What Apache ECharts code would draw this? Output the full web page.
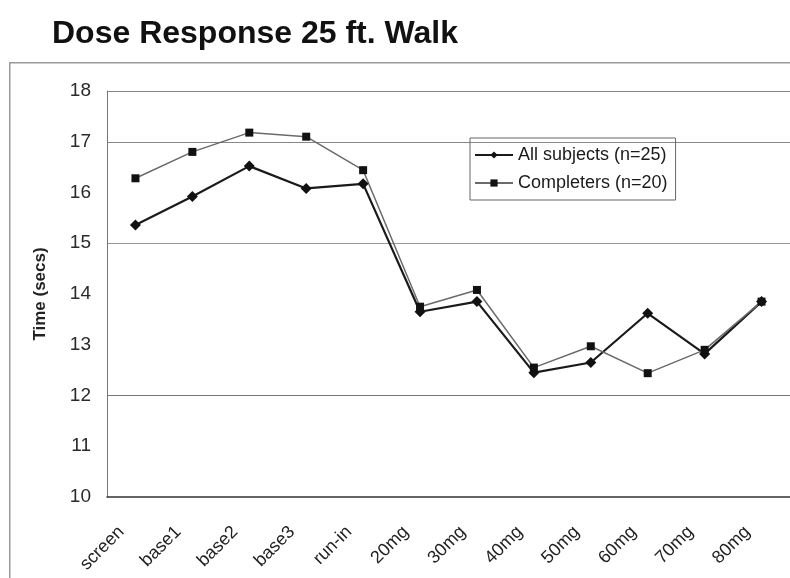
<!DOCTYPE html>
<html>
<head>
<meta charset="utf-8">
<script src="https://cdn.jsdelivr.net/npm/echarts@6/dist/echarts.min.js"></script>
<style>
html,body{margin:0;padding:0;background:#fff;}
#chart{width:790px;height:578px;}
</style>
</head>
<body>
<div id="chart"></div>
<script>
const categories = ['screen','base1','base2','base3','run-in','20mg','30mg','40mg','50mg','60mg','70mg','80mg'];
const allSubjects = [15.36, 15.92, 16.52, 16.08, 16.17, 13.65, 13.85, 12.45, 12.65, 13.62, 12.82, 13.85];
const completers = [16.28, 16.80, 17.18, 17.10, 16.44, 13.75, 14.08, 12.55, 12.97, 12.44, 12.90, 13.85];
const yMin = 10, yMax = 18, yStep = 1;
const titleText = 'Dose Response 25 ft. Walk';
const yTitle = 'Time (secs)';
const seriesNames = ['All subjects (n=25)', 'Completers (n=20)'];

const F = 'Liberation Sans, Arial, sans-serif';
const chart = echarts.init(document.getElementById('chart'));
const clear = 'rgba(0,0,0,0)';
chart.setOption({
  animation: false,
  backgroundColor: '#fff',
  title: {
    text: titleText, left: 47, top: 13,
    textStyle: {fontFamily: F, fontSize: 32, fontWeight: 'bold', color: '#111'}
  },
  graphic: [{
    type: 'rect', left: 9, top: 62, silent: true,
    shape: {width: 800, height: 600},
    style: {fill: clear, stroke: '#999', lineWidth: 1.5}
  }],
  legend: {
    orient: 'vertical', left: 470, top: 138,
    padding: [8, 8, 8, 4], itemGap: 10,
    borderColor: '#666', borderWidth: 1,
    itemWidth: 38, itemHeight: 9,
    textStyle: {fontFamily: F, fontSize: 18, color: '#1a1a1a'},
    data: seriesNames
  },
  grid: {left: 107, right: 0, top: 91, bottom: 81, containLabel: false},
  xAxis: {
    type: 'category', data: categories, boundaryGap: true,
    axisLine: {lineStyle: {color: '#333', width: 1.5}},
    axisTick: {show: false},
    axisLabel: {rotate: 45, margin: 18, padding: [0, 20, 0, 0], interval: 0,
      fontFamily: F, fontSize: 18, color: '#222'}
  },
  yAxis: {
    type: 'value', min: yMin, max: yMax, interval: yStep,
    name: yTitle, nameLocation: 'middle', nameGap: 58, nameRotate: 90,
    nameTextStyle: {fontFamily: F, fontSize: 17, fontWeight: 'bold', color: '#222'},
    axisLine: {show: true, lineStyle: {color: '#777', width: 1}},
    axisTick: {show: false},
    axisLabel: {margin: 16, fontFamily: F, fontSize: 19, color: '#2a2a2a'},
    splitLine: {show: true, lineStyle: {
      color: [clear, clear, '#777', clear, clear, '#999', clear, '#888', '#888'], width: 1.2
    }}
  },
  series: [{
    name: seriesNames[0], type: 'line', data: allSubjects,
    symbol: 'diamond', symbolSize: 11,
    lineStyle: {color: '#1a1a1a', width: 2.2},
    itemStyle: {color: '#111'}
  }, {
    name: seriesNames[1], type: 'line', data: completers,
    symbol: 'rect', symbolSize: 8,
    lineStyle: {color: '#6a6a6a', width: 1.5},
    itemStyle: {color: '#111'}
  }]
});
</script>
</body>
</html>
